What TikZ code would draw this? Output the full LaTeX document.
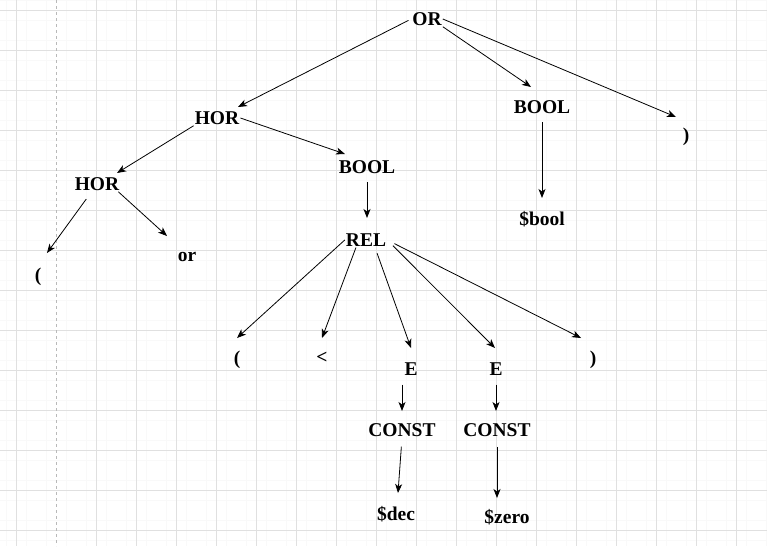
\documentclass[tikz,border=0pt]{standalone}
\usepackage{fontspec}
\setmainfont{Liberation Serif}
\usetikzlibrary{arrows.meta}
\tikzset{
  tok/.style={font=\fontsize{19.5}{23}\selectfont\bfseries, inner sep=1pt},
  arr/.style={-{Stealth[length=9pt,width=7pt,inset=2.5pt]}, line width=0.8pt},
  minorline/.style={gray!5, line width=0.5pt},
  majorline/.style={gray!24, line width=0.6pt},
}
\begin{document}
\begin{tikzpicture}[x=1pt, y=-1pt]
\useasboundingbox (0,0) rectangle (767,546);
% background grid
\foreach \x in {6.7,26.7,...,767} \draw[minorline] (\x,0) -- (\x,546);
\foreach \y in {0,20,...,546} \draw[minorline] (0,\y) -- (767,\y);
\foreach \x in {16.7,96.7,136.7,...,767} \draw[majorline] (\x,0) -- (\x,546);
\foreach \y in {10,50,...,546} \draw[majorline] (0,\y) -- (767,\y);
\draw[gray!55, line width=0.6pt, dash pattern=on 3pt off 3pt] (56.7,0) -- (56.7,546);
% tree nodes
\node[tok] (or0) at (427,19) {OR};
\node[tok] (hora) at (217,118) {HOR};
\node[tok] (horb) at (97,184) {HOR};
\node[tok] (lpa) at (38,277) {(};
\node[tok] (kwor) at (187,257) {or};
\node[tok] (boola) at (367,167) {BOOL};
\node[tok] (rel) at (366,240) {REL};
\node[tok] (lpb) at (237,360) {(};
\node[tok] (lt) at (322,358) {<};
\node[tok] (ea) at (411,369) {E};
\node[tok] (eb) at (496,369) {E};
\node[tok] (rpb) at (593,360) {)};
\node[tok] (consta) at (402,430) {CONST};
\node[tok] (constb) at (497,430) {CONST};
\node[tok] (dec) at (396,514) {\$dec};
\node[tok] (zero) at (507,517) {\$zero};
\node[tok] (boolb) at (542,107) {BOOL};
\node[tok] (sbool) at (542,219) {\$bool};
\node[tok] (rpa) at (686,137) {)};
% edges
\draw[arr, shorten <=3pt] (or0.west) -- ([xshift=21pt,yshift=11pt]hora.center);
\draw[arr] (or0.south east) -- ([xshift=-11pt,yshift=20pt]boolb.center);
\draw[arr] (or0.east) -- ([xshift=-10pt,yshift=20pt]rpa.center);
\draw[arr] (hora.south west) -- ([xshift=20pt,yshift=11pt]horb.center);
\draw[arr] (hora.east) -- ([xshift=-22pt,yshift=13pt]boola.center);
\draw[arr, shorten <=9pt] (horb.235) -- ([xshift=9pt,yshift=24pt]lpa.center);
\draw[arr] (horb.-20) -- ([xshift=-20pt,yshift=21pt]kwor.center);
\draw[arr, shorten <=7pt] (boola.south) -- ([xshift=1pt,yshift=22pt]rel.center);
\draw[arr, shorten <=7pt] (boolb.south) -- ([yshift=21pt]sbool.center);
\draw[arr] (rel.west) -- ([yshift=22pt]lpb.center);
\draw[arr] (rel.217) -- ([yshift=20pt]lt.center);
\draw[arr, shorten <=6pt] (rel.-40) -- ([yshift=21pt]ea.center);
\draw[arr, shorten <=8pt] (rel.east) -- ([xshift=-1pt,yshift=21pt]eb.center);
\draw[arr, shorten <=8pt] (rel.east) -- ([xshift=-12pt,yshift=22pt]rpb.center);
\draw[arr, shorten <=8pt] (ea.south -| consta.center) -- ([yshift=19pt]consta.center);
\draw[arr, shorten <=8pt] (eb.south) -- ([yshift=19pt]eb.south |- constb.center);
\draw[arr, shorten <=9pt] (consta.south) -- ([xshift=2pt,yshift=21pt]dec.center);
\draw[arr, shorten <=9pt] (constb.south) -- ([yshift=19pt]constb.south |- zero.center);
\end{tikzpicture}
\end{document}
